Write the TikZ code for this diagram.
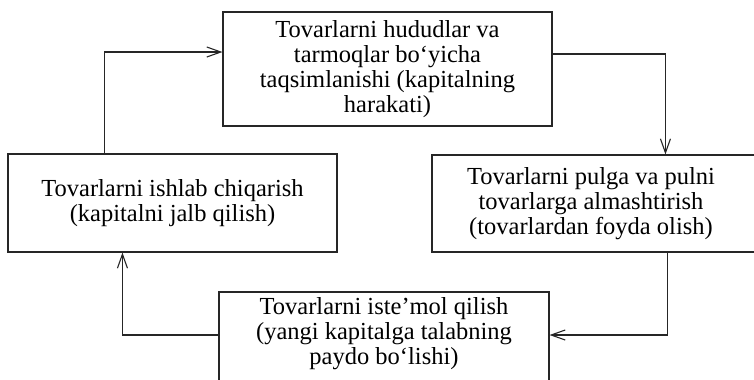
\documentclass[tikz,border=0pt]{standalone}
\usepackage{fontspec}
\setmainfont{Liberation Serif}
\usetikzlibrary{arrows.meta}
\begin{document}
\begin{tikzpicture}[x=1bp,y=-1bp,
  box/.style={draw=black!85, line width=1.1bp, inner sep=0pt},
  txt/.style={align=center, font=\fontsize{24.5bp}{25bp}\selectfont, inner sep=0pt},
  arr/.style={draw=black!85, line width=1.1bp, -{Straight Barb[length=14bp,width=10bp]}}]
\useasboundingbox (0,0) rectangle (754,379);
\node[box, txt, minimum width=329bp, minimum height=114bp] (tbox) at (387.5,69)
  {Tovarlarni hududlar va\\tarmoqlar bo‘yicha\\taqsimlanishi (kapitalning\\harakati)};
\node[box, txt, minimum width=329bp, minimum height=98bp] (lbox) at (172.5,203)
  {Tovarlarni ishlab chiqarish\\(kapitalni jalb qilish)};
\node[box, minimum width=340bp, minimum height=97bp] (rbox) at (602,203.5) {};
\node[txt] (rtext) at (591,203.5)
  {Tovarlarni pulga va pulni\\tovarlarga almashtirish\\(tovarlardan foyda olish)};
\node[box, minimum width=330bp, minimum height=100bp] (bbox) at (384,342) {};
\node[txt] (btext) at (384,334)
  {Tovarlarni iste’mol qilish\\(yangi kapitalga talabning\\paydo bo‘lishi)};
\draw[arr] ([xshift=97bp]lbox.north west) |- ([yshift=17bp]tbox.west);
\draw[arr] ([yshift=15bp]tbox.east) -| ([xshift=234bp]rbox.north west);
\draw[arr] ([xshift=236bp]rbox.south west) |- ([yshift=7bp]bbox.east);
\draw[arr] ([yshift=7bp]bbox.west) -| ([xshift=115bp]lbox.south west);
\end{tikzpicture}
\end{document}
